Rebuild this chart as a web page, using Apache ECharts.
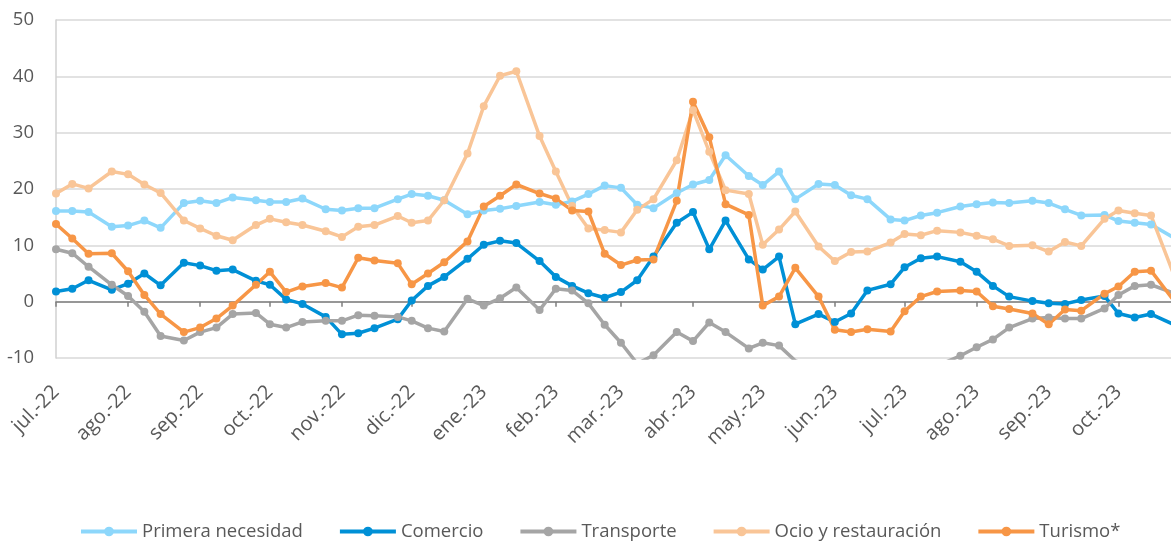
<!DOCTYPE html>
<html>
<head>
<meta charset="utf-8">
<script src="https://cdn.jsdelivr.net/npm/echarts@6/dist/echarts.min.js"></script>
<style>
html, body { margin: 0; padding: 0; background: #fff; }
#chart { width: 1171px; height: 545px; }
</style>
</head>
<body>
<div id="chart"></div>
<script>
// fechas de cada observacion (4 por mes)
const weeks = [
  '2022-07-01', '2022-07-08', '2022-07-15', '2022-07-25',
  '2022-08-01', '2022-08-08', '2022-08-15', '2022-08-25',
  '2022-09-01', '2022-09-08', '2022-09-15', '2022-09-25',
  '2022-10-01', '2022-10-08', '2022-10-15', '2022-10-25',
  '2022-11-01', '2022-11-08', '2022-11-15', '2022-11-25',
  '2022-12-01', '2022-12-08', '2022-12-15', '2022-12-25',
  '2023-01-01', '2023-01-08', '2023-01-15', '2023-01-25',
  '2023-02-01', '2023-02-08', '2023-02-15', '2023-02-22',
  '2023-03-01', '2023-03-08', '2023-03-15', '2023-03-25',
  '2023-04-01', '2023-04-08', '2023-04-15', '2023-04-25',
  '2023-05-01', '2023-05-08', '2023-05-15', '2023-05-25',
  '2023-06-01', '2023-06-08', '2023-06-15', '2023-06-25',
  '2023-07-01', '2023-07-08', '2023-07-15', '2023-07-25',
  '2023-08-01', '2023-08-08', '2023-08-15', '2023-08-25',
  '2023-09-01', '2023-09-08', '2023-09-15', '2023-09-25',
  '2023-10-01', '2023-10-08', '2023-10-15', '2023-10-25'
];

const monthLabels = ['jul.-22', 'ago.-22', 'sep.-22', 'oct.-22', 'nov.-22', 'dic.-22',
  'ene.-23', 'feb.-23', 'mar.-23', 'abr.-23', 'may.-23', 'jun.-23',
  'jul.-23', 'ago.-23', 'sep.-23', 'oct.-23'];

const primera = [
  16.1, 16.1, 15.9, 13.3, 13.5, 14.4, 13.1, 17.5, 17.9, 17.5, 18.5, 18.0,
  17.7, 17.7, 18.3, 16.4, 16.2, 16.6, 16.6, 18.2, 19.1, 18.8, 18.0, 15.5,
  16.2, 16.5, 17.0, 17.7, 17.2, 17.8, 19.1, 20.6, 20.2, 17.2, 16.6, 19.3,
  20.8, 21.6, 26.0, 22.3, 20.7, 23.1, 18.2, 20.9, 20.7, 18.9, 18.2, 14.6,
  14.4, 15.3, 15.8, 16.9, 17.3, 17.6, 17.5, 17.9, 17.5, 16.4, 15.3, 15.4,
  14.3, 14.0, 13.7, 11.3
];
const comercio = [
  1.8, 2.3, 3.8, 2.1, 3.2, 5.0, 2.9, 6.9, 6.4, 5.5, 5.7, 3.7,
  3.0, 0.4, -0.4, -2.7, -5.8, -5.6, -4.7, -3.1, 0.2, 2.8, 4.4, 7.6,
  10.1, 10.8, 10.4, 7.2, 4.4, 2.8, 1.5, 0.7, 1.7, 3.8, 8.0, 14.0,
  15.9, 9.3, 14.4, 7.5, 5.7, 8.0, -4.0, -2.2, -3.6, -2.1, 2.0, 3.1,
  6.1, 7.7, 8.0, 7.1, 5.3, 2.8, 0.9, 0.1, -0.3, -0.4, 0.3, 1.0,
  -2.1, -2.8, -2.2, -4.1
];
const transporte = [
  9.3, 8.6, 6.2, 3.0, 1.0, -1.8, -6.1, -6.9, -5.4, -4.6, -2.2, -2.0,
  -4.0, -4.6, -3.6, -3.4, -3.4, -2.4, -2.5, -2.7, -3.4, -4.7, -5.3, 0.5,
  -0.7, 0.6, 2.5, -1.5, 2.3, 2.0, -0.3, -4.1, -7.3, -11.0, -9.5, -5.4,
  -7.0, -3.7, -5.4, -8.3, -7.3, -7.8, -10.5, -12.0, -13.5, -14.0, -14.5, -14.0,
  -13.0, -12.5, -11.4, -9.6, -8.1, -6.7, -4.6, -3.0, -2.8, -3.0, -3.0, -1.2,
  1.2, 2.8, 3.0, 1.5
];
const ocio = [
  19.2, 20.9, 20.1, 23.1, 22.6, 20.8, 19.3, 14.4, 13.0, 11.7, 10.9, 13.6,
  14.7, 14.1, 13.6, 12.5, 11.5, 13.3, 13.6, 15.2, 14.0, 14.4, 18.0, 26.3,
  34.7, 40.1, 40.9, 29.4, 23.1, 17.0, 13.0, 12.7, 12.3, 16.3, 18.2, 25.1,
  34.0, 26.6, 19.8, 19.1, 10.1, 12.8, 16.0, 9.8, 7.2, 8.8, 8.9, 10.5,
  12.0, 11.8, 12.6, 12.3, 11.7, 11.1, 9.9, 10.0, 8.9, 10.6, 9.9, 14.7,
  16.2, 15.7, 15.3, 4.6
];
const turismo = [
  13.8, 11.2, 8.5, 8.6, 5.4, 1.2, -2.2, -5.4, -4.6, -3.0, -0.7, 3.0,
  5.3, 1.7, 2.7, 3.3, 2.5, 7.8, 7.3, 6.8, 3.1, 5.0, 7.0, 10.7,
  16.9, 18.8, 20.8, 19.2, 18.3, 16.2, 16.0, 8.5, 6.5, 7.4, 7.5, 17.9,
  35.5, 29.2, 17.3, 15.4, -0.7, 0.9, 6.0, 0.9, -5.0, -5.4, -4.9, -5.3,
  -1.7, 0.9, 1.8, 2.0, 1.8, -0.8, -1.3, -2.1, -4.0, -1.4, -1.6, 1.4,
  2.7, 5.3, 5.5, 0.1
];

const seriesNames = ['Primera necesidad', 'Comercio', 'Transporte', 'Ocio y restauración', 'Turismo*'];
const seriesColors = ['#8dd7fb', '#0090d6', '#a5a5a5', '#f9c597', '#f79646'];
const seriesValues = [primera, comercio, transporte, ocio, turismo];

// x en dias desde el 1 de julio de 2022
const DAY = 86400000;
const t0 = Date.UTC(2022, 6, 1);
function toDay(s) {
  const p = s.split('-');
  return (Date.UTC(+p[0], +p[1] - 1, +p[2]) - t0) / DAY;
}
const weekDays = weeks.map(toDay);
const monthStarts = monthLabels.map((_, i) => (Date.UTC(2022, 6 + i, 1) - t0) / DAY);
const xMin = 0;
const xMax = 479.6;

function monthLabel(v) {
  const idx = monthStarts.findIndex(t => Math.abs(t - v) < 0.5);
  return idx >= 0 ? monthLabels[idx] : '';
}

const textColor = '#595959';
const chart = echarts.init(document.getElementById('chart'));

chart.setOption({
  animation: false,
  textStyle: { fontFamily: 'Open Sans' },
  grid: { left: 56, right: 0, top: 20, bottom: 187 },
  legend: {
    left: 79,
    top: 522,
    padding: 0,
    itemWidth: 56,
    itemHeight: 12,
    itemGap: 35,
    lineStyle: { width: 4 },
    textStyle: { fontSize: 18.5, color: textColor, fontFamily: 'Open Sans' },
    data: seriesNames
  },
  xAxis: {
    type: 'value',
    min: xMin,
    max: xMax,
    axisLine: { show: true, onZero: true, lineStyle: { color: '#7f7f7f', width: 1.5 } },
    axisTick: { show: true, customValues: monthStarts, length: 5, lineStyle: { color: '#7f7f7f', width: 1.5 } },
    splitLine: { show: false },
    axisLabel: {
      customValues: monthStarts,
      formatter: monthLabel,
      rotate: 45,
      margin: 31,
      fontSize: 20,
      color: textColor
    }
  },
  yAxis: {
    type: 'value',
    min: -10,
    max: 50,
    interval: 10,
    axisLine: { show: true, lineStyle: { color: '#d0d0d0', width: 1.5 } },
    axisTick: { show: false },
    axisLabel: { fontSize: 18.5, color: textColor, margin: 22 },
    splitLine: { lineStyle: { color: '#d9d9d9', width: 1.5 } }
  },
  series: seriesNames.map((name, s) => ({
    name: name,
    type: 'line',
    data: weekDays.map((d, i) => [d, seriesValues[s][i]]),
    symbol: 'circle',
    symbolSize: 8,
    showSymbol: true,
    clip: true,
    color: seriesColors[s],
    lineStyle: { width: 3.5, color: seriesColors[s] },
    itemStyle: { color: seriesColors[s] }
  }))
});
</script>
</body>
</html>
